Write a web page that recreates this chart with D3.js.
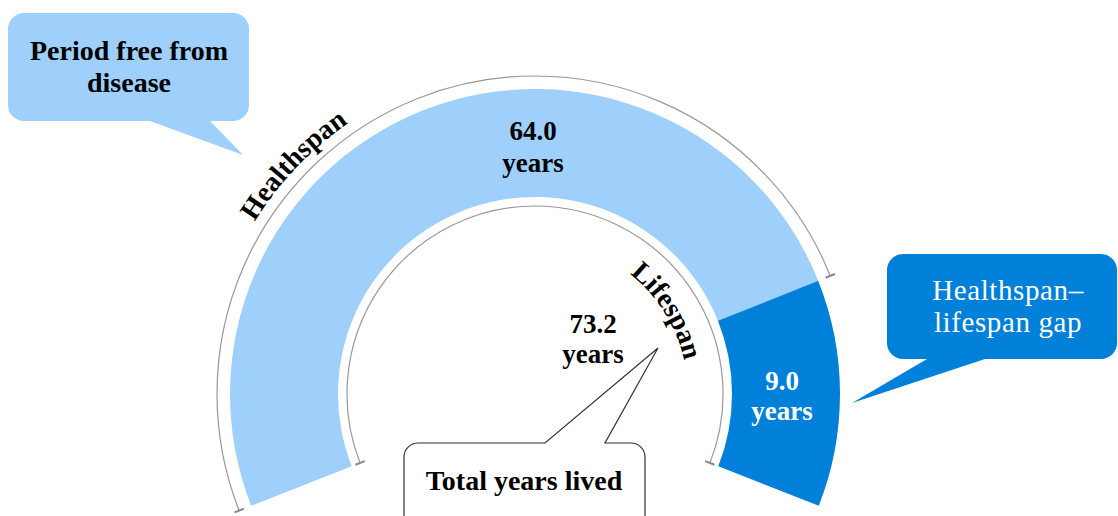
<!DOCTYPE html>
<html lang="en">

<head>
  <meta charset="UTF-8">
  <script src="https://d3js.org/d3.v7.min.js"></script>
  <title>Healthspan vs lifespan</title>
  <style>
    body {
      margin: 0;
      background-color: white;
    }

    text {
      font-family: "Liberation Serif", "Times New Roman", serif;
      font-weight: bold;
    }
  </style>
</head>

<body>
  <div id="chart"></div>
</body>

<script>
  // data
  var segments = ["Healthspan", "Healthspan–lifespan gap"];
  var segmentYears = [64.0, 9.0];
  var lifespanYears = 73.2;
  var unit = "years";

  var width = 1118,
    height = 516,
    cx = 535,
    cy = 394;

  var lightBlue = "#9fcffb",
    darkBlue = "#0080d8",
    gray = "#999";

  var svg = d3.select("#chart")
    .append("svg")
    .attr("width", width)
    .attr("height", height);

  var defs = svg.append("defs");

  // the gauge is drawn as a picture, not to scale, so the angle scale is piecewise
  var angle = d3.scaleLinear()
    .domain([0, segmentYears[0], lifespanYears])
    .range([-111.5, 68.2, 111.5].map(d => d * Math.PI / 180));

  var starts = [0, segmentYears[0]];
  var ends = [segmentYears[0], lifespanYears];

  var arc = d3.arc()
    .innerRadius(197)
    .outerRadius(305);

  var g = svg.append("g")
    .attr("transform", "translate(" + cx + "," + cy + ")");

  g.selectAll("path.seg")
    .data(segments)
    .enter()
    .append("path")
    .attr("class", "seg")
    .attr("d", (d, i) => arc({ startAngle: angle(starts[i]), endAngle: angle(ends[i]) }))
    .style("fill", (d, i) => i == 0 ? lightBlue : darkBlue);

  // bracket arcs with end ticks
  function bracket(r, a0, a1) {
    var p = d3.path();
    p.arc(0, 0, r, a0 - Math.PI / 2, a1 - Math.PI / 2, false);
    g.append("path")
      .attr("d", p.toString())
      .style("fill", "none")
      .style("stroke", gray)
      .style("stroke-width", 1.2);
    [a0, a1].forEach(a => {
      g.append("line")
        .attr("x1", (r - 5) * Math.sin(a))
        .attr("y1", -(r - 5) * Math.cos(a))
        .attr("x2", (r + 5) * Math.sin(a))
        .attr("y2", -(r + 5) * Math.cos(a))
        .style("stroke", "#888")
        .style("stroke-width", 2);
    });
  }
  bracket(318, angle(0), angle(segmentYears[0]));
  bracket(188, angle(0), angle(lifespanYears));

  // curved labels
  function curvedLabel(id, r, midDeg, txt) {
    var m = midDeg * Math.PI / 180, half = Math.PI / 3;
    var p = d3.path();
    p.arc(cx, cy, r, m - half - Math.PI / 2, m + half - Math.PI / 2, false);
    defs.append("path").attr("id", id).attr("d", p.toString());
    svg.append("text")
      .style("font-size", "28px")
      .append("textPath")
      .attr("href", "#" + id)
      .attr("startOffset", "50%")
      .attr("text-anchor", "middle")
      .text(txt);
  }
  curvedLabel("hsPath", 329, -46.5, "Healthspan");
  curvedLabel("lsPath", 153, 57.8, "Lifespan");

  // speech bubbles: rounded box with a tail on the top or bottom edge
  function bubble(x, y, w, h, r, edge, b0, b1, tip) {
    var p = d3.path();
    p.moveTo(x + r, y);
    if (edge == "top") {
      p.lineTo(b0, y);
      p.lineTo(tip[0], tip[1]);
      p.lineTo(b1, y);
    }
    p.lineTo(x + w - r, y);
    p.arcTo(x + w, y, x + w, y + r, r);
    p.lineTo(x + w, y + h - r);
    p.arcTo(x + w, y + h, x + w - r, y + h, r);
    if (edge == "bottom") {
      p.lineTo(b1, y + h);
      p.lineTo(tip[0], tip[1]);
      p.lineTo(b0, y + h);
    }
    p.lineTo(x + r, y + h);
    p.arcTo(x, y + h, x, y + h - r, r);
    p.lineTo(x, y + r);
    p.arcTo(x, y, x + r, y, r);
    p.closePath();
    return svg.append("path").attr("d", p.toString());
  }

  bubble(8, 13, 241, 108, 16, "bottom", 150, 210, [243, 155])
    .style("fill", lightBlue);
  bubble(887, 254, 230, 105, 16, "bottom", 927, 985, [852, 403])
    .style("fill", darkBlue);
  bubble(404, 443, 241, 95, 14, "top", 545, 605, [658, 348])
    .style("fill", "white")
    .style("stroke", "#333")
    .style("stroke-width", 1.2);

  function lines(x, ys, txts, size, color, weight, spacing) {
    var t = svg.append("text")
      .attr("text-anchor", "middle")
      .style("font-size", size + "px")
      .style("fill", color)
      .style("font-weight", weight)
      .style("letter-spacing", spacing + "px");
    txts.forEach((s, i) => {
      t.append("tspan").attr("x", x).attr("y", ys[i]).text(s);
    });
  }

  lines(129, [60, 92], ["Period free from", "disease"], 28, "black", "bold", 0);
  lines(1008, [300, 332], ["Healthspan–", "lifespan gap"], 29, "white", "normal", 0.6);
  lines(524, [490], ["Total years lived"], 28, "black", "bold", 0);

  // value labels
  lines(533, [140, 172], [segmentYears[0].toFixed(1), unit], 27, "black", "bold", 0);
  lines(782, [390, 420], [segmentYears[1].toFixed(1), unit], 27, "white", "bold", 0);
  lines(593, [333, 363], [lifespanYears.toFixed(1), unit], 27, "black", "bold", 0);
</script>

</html>
